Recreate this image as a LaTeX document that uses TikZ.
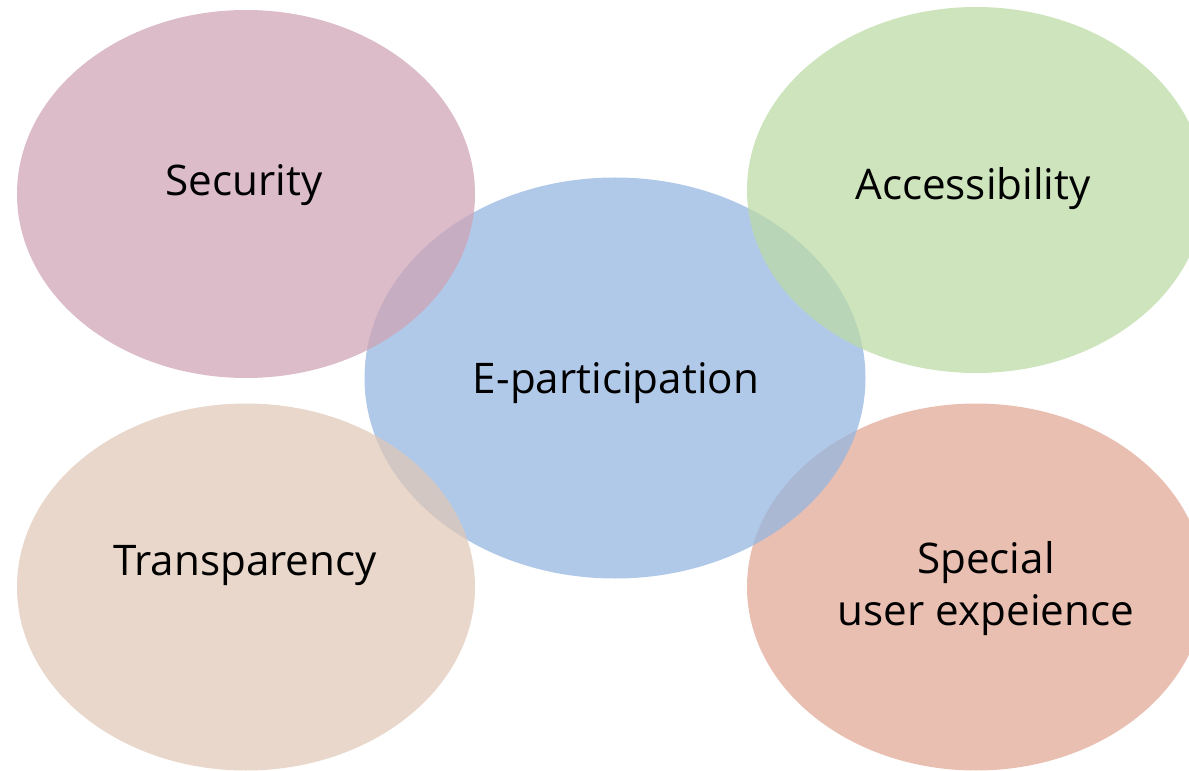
\documentclass[tikz,border=0pt]{standalone}
\usepackage{fontspec}
\setmainfont{Open Sans}
\usepackage{tikz}
\usetikzlibrary{calc}

\definecolor{secpink}{RGB}{206,163,180}
\definecolor{accgreen}{RGB}{187,218,165}
\definecolor{epblue}{RGB}{147,181,224}
\definecolor{trbeige}{RGB}{224,200,182}
\definecolor{spsalmon}{RGB}{225,167,150}

\tikzset{
  blob/.style={fill opacity=0.73},
  lbl/.style={font=\fontsize{24}{29.5}\selectfont, text=black, anchor=base, inner sep=0pt}
}

\begin{document}
\begin{tikzpicture}

\useasboundingbox (0,0) rectangle (23.78,-15.42);

\fill[blob,spsalmon](19.52,-11.74) ellipse (4.58 and 3.67);
\fill[blob,epblue](12.30,-7.56) ellipse (5.01 and 4.01);
\fill[blob,secpink](4.92,-3.88) ellipse (4.58 and 3.68);
\fill[blob,trbeige](4.92,-11.74) ellipse (4.58 and 3.67);
\fill[blob,accgreen](19.52,-3.80) ellipse (4.58 and 3.66);

\node[lbl](sec) at (4.88,-3.92) {Security};
\node[lbl](acc) at (19.46,-4.00) {Accessibility};
\node[lbl](ep) at (12.32,-7.86) {E-participation};
\node[lbl](tr) at (4.90,-11.50) {Transparency};
\node[lbl,align=center](sp) at (19.72,-12.50) {Special\\user expeience};

\end{tikzpicture}
\end{document}
